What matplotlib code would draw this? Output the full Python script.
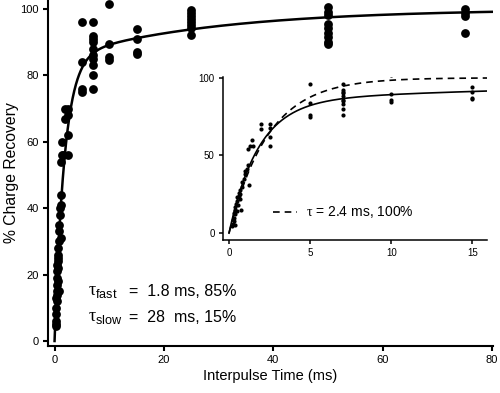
import numpy as np
import matplotlib
matplotlib.use('Agg')
import matplotlib.pyplot as plt

plt.rcParams['font.family'] = ['Liberation Sans', 'DejaVu Sans']
plt.rcParams['mathtext.fontset'] = 'custom'
plt.rcParams['mathtext.rm'] = 'Liberation Sans'
plt.rcParams['mathtext.sf'] = 'Liberation Serif'

# fit parameters shown on the chart
tau_fast, frac_fast = 1.8, 85.0
tau_slow, frac_slow = 28.0, 15.0
tau_single = 2.4

# recovery points, interpulse time (ms) vs % charge recovery
t_short = [0.2, 0.25, 0.3, 0.3, 0.3, 0.35, 0.4, 0.4, 0.4, 0.45, 0.5, 0.5, 0.5, 0.55,
           0.6, 0.6, 0.65, 0.7, 0.7, 0.75, 0.8, 0.8, 0.9, 1.0, 1.0, 1.1, 1.2, 1.25,
           1.2, 1.3, 1.4, 1.5, 2.0, 2.0, 2.5, 2.5, 2.5, 2.5,
           5, 5, 5, 5,
           7, 7, 7, 7, 7, 7, 7, 7, 7, 7,
           10, 10, 10, 10,
           15, 15, 15, 15]
y_short = [4.5, 6, 8, 10, 13, 5, 12, 15, 17, 19, 21, 23, 14, 18,
           26, 24, 22, 28, 25, 15, 30, 33, 35, 38, 40, 41, 44, 31,
           54, 56, 60, 56, 67, 70, 70, 68, 62, 56,
           96, 84, 76, 75,
           96, 92, 91, 90, 88, 86, 85, 83, 80, 76,
           101.5, 89.5, 85.5, 84.5,
           94, 91, 87, 86.5]
t_long = [25] * 8 + [50] * 9 + [75] * 4
y_long = [99.7, 98.9, 97.9, 97.0, 96.0, 95.2, 94.3, 92.2,
          100.7, 99.2, 98.2, 95.5, 94.2, 92.9, 91.7, 90.2, 89.3,
          99.9, 98.9, 97.9, 92.7]


def double_exp(t):
    return (100 - frac_fast * np.exp(-t / tau_fast)
            - frac_slow * np.exp(-t / tau_slow))


def single_exp(t):
    return 100 * (1 - np.exp(-t / tau_single))


def style_axes(ax, lw, ticklen, fs):
    for s in ['top', 'right']:
        ax.spines[s].set_visible(False)
    for s in ['left', 'bottom']:
        ax.spines[s].set_linewidth(lw)
    ax.tick_params(direction='out', length=ticklen, width=lw, labelsize=fs, pad=3)


fig = plt.figure(figsize=(5.0, 3.93), dpi=100)

ax = fig.add_axes([0.096, 0.1196, 0.89, 0.8804])
ax.scatter(t_short + t_long, y_short + y_long, s=40, c='black', zorder=3, linewidths=0)
tt = np.linspace(0, 80, 800)
ax.plot(tt, double_exp(tt), color='black', lw=1.8, zorder=4)
ax.set_xlim(-1.2, 80.2)
ax.set_ylim(-1.5, 102.7)
ax.set_xticks([0, 20, 40, 60, 80])
ax.set_yticks([0, 20, 40, 60, 80, 100])
style_axes(ax, 1.5, 3.5, 8)
ax.set_xlabel('Interpulse Time (ms)', fontsize=10.5, labelpad=3)
ax.set_ylabel('% Charge Recovery', fontsize=11.3, labelpad=1)

ax.text(6.1, 14.8, r'$\mathsf{\tau}_{\mathrm{fast}}$', fontsize=13, va='center')
ax.text(6.1, 7.2, r'$\mathsf{\tau}_{\mathrm{slow}}$', fontsize=13, va='center')
ax.text(13.6, 14.8, '=  1.8 ms, 85%', fontsize=11.5, va='center')
ax.text(13.6, 7.2, '=  28  ms, 15%', fontsize=11.5, va='center')

# inset: first 15 ms
ax_in = fig.add_axes([0.446, 0.389, 0.528, 0.415])
sel = [i for i, t in enumerate(t_short) if t <= 15]
ax_in.scatter([t_short[i] for i in sel], [y_short[i] for i in sel],
              s=9, c='black', zorder=3, linewidths=0)
ti = np.linspace(0, 15.9, 400)
ax_in.plot(ti, double_exp(ti), color='black', lw=1.2, zorder=4)
dashed, = ax_in.plot(ti, single_exp(ti), color='black', lw=1.2,
                     dashes=(4, 3), zorder=4)
ax_in.set_xlim(-0.37, 15.9)
ax_in.set_ylim(-4.5, 100.5)
ax_in.set_xticks([0, 5, 10, 15])
ax_in.set_yticks([0, 50, 100])
style_axes(ax_in, 1.1, 3, 7)
ax_in.legend([dashed], [r'$\mathsf{\tau}$ = 2.4 ms, 100%'], loc='center left',
             bbox_to_anchor=(0.19, 0.17), frameon=False, fontsize=10,
             handlelength=1.7, handletextpad=0.7, borderpad=0, borderaxespad=0)

fig.savefig('out.png', dpi=100)
